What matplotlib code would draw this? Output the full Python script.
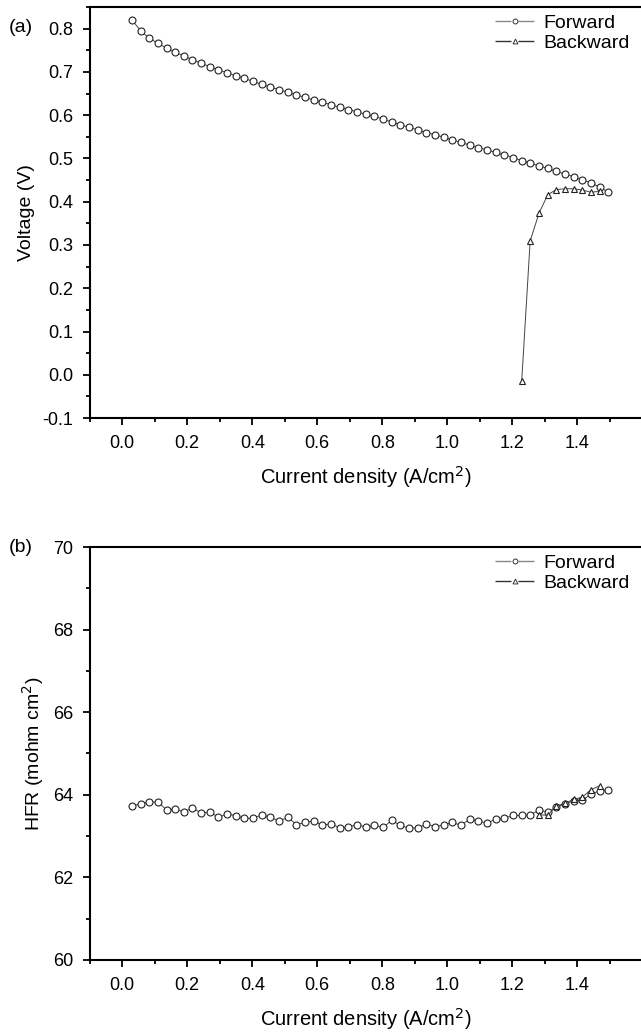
import matplotlib
matplotlib.use("Agg")
import matplotlib.pyplot as plt
from matplotlib.lines import Line2D
from matplotlib.ticker import MultipleLocator

plt.rcParams['font.family'] = ['Liberation Sans', 'DejaVu Sans']
plt.rcParams['axes.unicode_minus'] = False

# current density, forward sweep (A/cm2)
j_fwd = [0.030, 0.057, 0.083, 0.110, 0.137, 0.163, 0.190, 0.216, 0.243, 0.270,
         0.296, 0.323, 0.350, 0.376, 0.403, 0.430, 0.456, 0.483, 0.510, 0.536,
         0.563, 0.589, 0.616, 0.643, 0.669, 0.696, 0.723, 0.749, 0.776, 0.803,
         0.829, 0.856, 0.882, 0.909, 0.936, 0.962, 0.989, 1.016, 1.042, 1.069,
         1.096, 1.122, 1.149, 1.176, 1.202, 1.229, 1.255, 1.282, 1.309, 1.335,
         1.362, 1.389, 1.415, 1.442, 1.469, 1.495]

v_fwd = [0.820, 0.795, 0.778, 0.766, 0.755, 0.745, 0.737, 0.728, 0.720, 0.712,
         0.705, 0.698, 0.691, 0.685, 0.678, 0.671, 0.665, 0.659, 0.653, 0.647,
         0.641, 0.635, 0.630, 0.624, 0.618, 0.613, 0.608, 0.602, 0.597, 0.591,
         0.584, 0.578, 0.572, 0.566, 0.560, 0.555, 0.549, 0.543, 0.537, 0.531,
         0.525, 0.520, 0.514, 0.508, 0.502, 0.495, 0.489, 0.483, 0.477, 0.470,
         0.464, 0.458, 0.451, 0.443, 0.434, 0.422]

j_bwd = [1.229, 1.255, 1.282, 1.309, 1.335, 1.362, 1.389, 1.415, 1.442, 1.469]
v_bwd = [-0.015, 0.309, 0.373, 0.416, 0.428, 0.430, 0.430, 0.427, 0.422, 0.424]

hfr_fwd = [63.73, 63.78, 63.83, 63.82, 63.63, 63.66, 63.58, 63.69, 63.55, 63.59,
           63.45, 63.54, 63.49, 63.43, 63.43, 63.52, 63.45, 63.37, 63.45, 63.28,
           63.33, 63.37, 63.26, 63.30, 63.20, 63.22, 63.28, 63.22, 63.26, 63.21,
           63.38, 63.26, 63.19, 63.20, 63.29, 63.23, 63.27, 63.33, 63.26, 63.41,
           63.37, 63.31, 63.41, 63.43, 63.50, 63.50, 63.51, 63.63, 63.58, 63.70,
           63.78, 63.86, 63.87, 64.01, 64.10, 64.12]

j_hfr_bwd = [1.282, 1.309, 1.335, 1.362, 1.389, 1.415, 1.442, 1.469]
hfr_bwd = [63.52, 63.50, 63.73, 63.79, 63.89, 63.94, 64.12, 64.22]

xticks = [0.0, 0.2, 0.4, 0.6, 0.8, 1.0, 1.2, 1.4]


def style_axes(ax):
    for s in ['left', 'bottom', 'top']:
        ax.spines[s].set_linewidth(1.5)
    ax.spines['right'].set_visible(False)
    ax.tick_params(which='both', direction='out', top=False, right=False,
                   labelsize=13, width=1.3)
    ax.tick_params(which='major', length=5, pad=7)
    ax.tick_params(which='minor', length=3)
    ax.set_xlim(-0.1, 1.6)
    ax.set_xticks(xticks)
    ax.set_xticklabels(['%.1f' % t for t in xticks])
    ax.xaxis.set_minor_locator(MultipleLocator(0.1))
    ax.set_xlabel('Current density (A/cm$^2$)', fontsize=14.5, labelpad=9)


def add_legend(ax):
    # line broken around the marker, as in the original legend
    h1 = Line2D([], [], color='#888888', lw=1.0, ls=(0, (11.5, 5.0)),
                marker='o', ms=3.5, mfc='white', mec='#333333', mew=0.7)
    h2 = Line2D([], [], color='#333333', lw=1.0, ls=(0, (11.5, 5.0)),
                marker='^', ms=3.5, mfc='white', mec='#333333', mew=0.7)
    ax.legend([h1, h2], ['Forward', 'Backward'], loc='upper right',
              frameon=False, fontsize=14, handlelength=2.0,
              handletextpad=0.45, labelspacing=0.1,
              bbox_to_anchor=(0.998, 1.01), borderaxespad=0.2)


fig = plt.figure(figsize=(6.41, 10.36), dpi=100)
ax1 = fig.add_axes([0.140, 0.5965, 0.862, 0.3967])
ax2 = fig.add_axes([0.140, 0.0734, 0.862, 0.3986])

mk = dict(mfc='white', mec='#222222', mew=0.8, ms=5, color='#444444', lw=0.7)

ax1.plot(j_fwd, v_fwd, marker='o', **mk)
ax1.plot(j_bwd, v_bwd, marker='^', **mk)
style_axes(ax1)
ax1.set_ylim(-0.1, 0.85)
ax1.set_yticks([-0.1, 0.0, 0.1, 0.2, 0.3, 0.4, 0.5, 0.6, 0.7, 0.8])
ax1.yaxis.set_minor_locator(MultipleLocator(0.05))
ax1.set_ylabel('Voltage (V)', fontsize=14, labelpad=5)
add_legend(ax1)

ax2.plot(j_fwd, hfr_fwd, marker='o', **mk)
ax2.plot(j_hfr_bwd, hfr_bwd, marker='^', **mk)
style_axes(ax2)
ax2.set_ylim(60, 70)
ax2.set_yticks([60, 62, 64, 66, 68, 70])
ax2.yaxis.set_minor_locator(MultipleLocator(1))
ax2.set_ylabel('HFR (mohm cm$^2$)', fontsize=14, labelpad=5)
add_legend(ax2)

fig.text(0.014, 0.973, '(a)', fontsize=14, va='center')
fig.text(0.014, 0.472, '(b)', fontsize=14, va='center')

fig.savefig('out.png', dpi=100)
